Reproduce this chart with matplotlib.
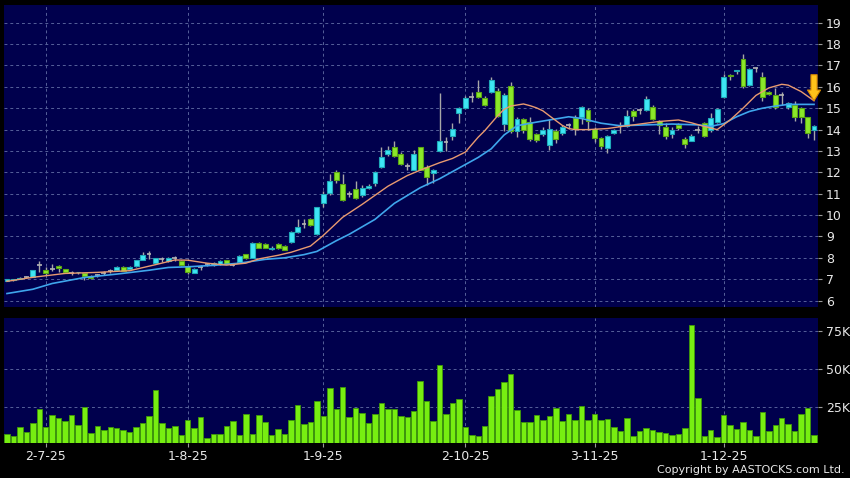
import matplotlib
matplotlib.use('Agg')
import matplotlib.pyplot as plt
import numpy as np

# ---------------- data ----------------
opens = [6.93, 6.97, 7.02, 7.10, 7.12, 7.65, 7.45, 7.50, 7.63, 7.48,
         7.30, 7.32, 7.27, 7.14, 7.18, 7.30, 7.40, 7.45, 7.56, 7.50,
         7.60, 7.90, 8.20, 7.77, 7.95, 7.86, 7.98, 7.86, 7.60, 7.31,
         7.58, 7.70, 7.66, 7.69, 7.89, 7.66, 7.81, 8.16, 8.00, 8.70,
         8.63, 8.40, 8.67, 8.55, 8.72, 9.19, 9.58, 9.80, 9.10, 10.55,
         11.02, 12.00, 11.44, 11.00, 11.20, 10.94, 11.25, 11.51, 12.23, 12.84,
         13.20, 12.88, 12.30, 12.13, 13.20, 12.26, 11.95, 12.99, 13.40, 13.70,
         14.80, 15.00, 15.53, 15.77, 15.50, 15.77, 15.81, 14.24, 16.05, 13.93,
         14.50, 14.35, 13.78, 13.80, 13.30, 13.93, 13.85, 14.20, 14.55, 14.59,
         14.90, 14.02, 13.60, 13.13, 13.83, 14.15, 14.18, 14.85, 14.90, 14.90,
         15.06, 14.38, 14.12, 13.80, 14.23, 13.55, 13.49, 14.00, 14.30, 13.96,
         14.34, 15.51, 16.57, 16.72, 17.29, 16.09, 16.90, 16.48, 15.78, 15.62,
         15.62, 15.04, 15.15, 15.00, 14.60, 13.98]
highs = [7.02, 7.03, 7.10, 7.15, 7.45, 7.83, 7.58, 7.70, 7.68, 7.50,
         7.38, 7.36, 7.30, 7.20, 7.25, 7.38, 7.48, 7.60, 7.60, 7.60,
         7.90, 8.25, 8.33, 8.00, 8.05, 8.05, 8.10, 7.90, 7.62, 7.52,
         7.65, 7.78, 7.80, 7.90, 7.92, 7.72, 8.12, 8.20, 8.72, 8.75,
         8.68, 8.55, 8.70, 8.60, 9.25, 9.83, 9.80, 9.85, 10.40, 11.12,
         11.90, 12.10, 11.90, 11.15, 11.60, 11.40, 11.45, 12.05, 13.20, 13.23,
         13.48, 12.95, 12.45, 13.05, 13.20, 12.35, 12.15, 15.70, 13.66, 14.30,
         15.08, 15.57, 15.77, 16.30, 15.55, 16.46, 15.95, 15.70, 16.25, 14.60,
         14.55, 14.60, 13.85, 14.10, 14.50, 14.05, 14.20, 14.30, 14.70, 15.10,
         15.00, 14.10, 13.65, 13.75, 14.05, 14.35, 14.90, 14.95, 15.02, 15.55,
         15.15, 14.45, 14.30, 14.10, 14.30, 13.67, 13.78, 14.15, 14.35, 14.80,
         15.00, 16.60, 16.62, 16.80, 17.52, 16.90, 16.95, 16.70, 15.82, 15.95,
         15.78, 15.30, 15.35, 15.05, 14.60, 14.20]
lows = [6.90, 6.93, 7.00, 7.05, 7.10, 7.35, 7.20, 7.40, 7.35, 7.28,
        7.20, 7.25, 6.98, 7.00, 7.10, 7.22, 7.30, 7.42, 7.38, 7.48,
        7.58, 7.88, 7.95, 7.75, 7.80, 7.80, 7.85, 7.60, 7.25, 7.28,
        7.45, 7.60, 7.60, 7.66, 7.70, 7.60, 7.78, 7.95, 7.98, 8.45,
        8.45, 8.35, 8.40, 8.35, 8.70, 9.15, 9.40, 9.50, 9.05, 10.36,
        10.93, 11.50, 10.65, 10.85, 10.75, 10.85, 11.20, 11.35, 12.20, 12.75,
        12.70, 12.35, 12.10, 12.10, 12.10, 11.40, 11.50, 12.95, 12.99, 13.50,
        14.30, 14.97, 15.30, 15.50, 15.10, 15.70, 14.60, 13.95, 13.85, 13.65,
        13.85, 13.45, 13.40, 13.70, 13.05, 13.35, 13.75, 14.05, 13.75, 14.25,
        14.00, 13.40, 13.10, 12.90, 13.78, 13.85, 14.10, 14.40, 14.75, 14.85,
        14.45, 13.80, 13.55, 13.60, 14.00, 13.12, 13.45, 13.85, 13.65, 13.90,
        14.30, 15.50, 16.30, 16.60, 15.95, 16.05, 16.70, 15.35, 15.60, 14.95,
        15.15, 14.98, 14.40, 14.30, 13.60, 13.50]
closes = [6.99, 7.00, 7.07, 7.10, 7.42, 7.65, 7.30, 7.50, 7.53, 7.35,
          7.30, 7.33, 7.16, 7.05, 7.18, 7.30, 7.40, 7.56, 7.40, 7.56,
          7.88, 8.14, 8.20, 7.97, 7.95, 8.00, 7.98, 7.66, 7.34, 7.50,
          7.58, 7.70, 7.77, 7.86, 7.73, 7.66, 8.09, 8.00, 8.70, 8.48,
          8.48, 8.47, 8.44, 8.39, 9.19, 9.45, 9.58, 9.56, 10.36, 10.98,
          11.60, 11.64, 10.70, 11.00, 10.78, 11.25, 11.37, 12.03, 12.70, 13.04,
          12.76, 12.37, 12.30, 12.84, 12.13, 11.80, 12.10, 13.46, 13.40, 14.05,
          15.00, 15.50, 15.53, 15.53, 15.17, 16.34, 14.63, 15.60, 13.92, 14.48,
          14.00, 13.57, 13.51, 14.00, 14.04, 13.57, 14.13, 14.20, 14.04, 15.06,
          14.38, 13.60, 13.24, 13.71, 13.99, 14.15, 14.65, 14.65, 14.90, 15.43,
          14.49, 14.23, 13.71, 14.00, 14.07, 13.33, 13.71, 14.00, 13.68, 14.54,
          14.96, 16.48, 16.51, 16.78, 16.04, 16.82, 16.90, 15.54, 15.67, 15.04,
          15.62, 15.26, 14.60, 14.60, 13.83, 14.17]
volume_k = [7.5, 6.2, 11.9, 8.9, 14.5, 23.9, 12.3, 20.2, 17.8, 16.3,
            19.7, 13.4, 25.2, 8.0, 12.8, 10.2, 12.1, 11.7, 10.0, 9.1,
            12.1, 14.7, 19.5, 36.0, 14.7, 11.3, 12.8, 6.9, 16.7, 11.3,
            18.6, 5.0, 7.3, 7.6, 12.8, 16.3, 7.1, 20.4, 7.8, 20.0,
            15.6, 6.9, 10.6, 7.6, 16.7,
            26.3, 14.3, 15.2, 28.9, 19.5, 37.8, 23.7, 38.0, 18.9, 24.7,
            21.3, 14.7, 20.8, 28.0, 23.9, 23.7, 19.5, 18.9, 22.3, 41.9,
            29.3, 15.8, 52.8, 20.8, 28.0, 30.2, 11.9, 7.1, 6.3, 13.0,
            32.1, 37.1, 41.7, 46.9, 23.4, 15.2, 15.4, 19.7, 16.7, 19.3,
            24.5, 16.3, 20.4, 16.5,
            25.6, 16.5, 20.8, 16.9, 17.3, 12.1, 9.3, 17.8, 6.3, 9.5,
            11.3, 10.2, 8.9, 8.0, 6.9, 7.8, 11.5, 78.7, 30.8, 6.5,
            10.2, 5.6, 20.0, 13.2, 10.8, 15.4, 10.4, 6.0, 21.9, 9.7,
            13.7, 18.2, 14.1, 9.7, 20.4, 24.7, 6.9]

ma_short_idx = [0, 4, 9, 14, 19, 23, 26, 28, 31, 34, 37, 39, 42, 44, 47, 49, 52, 55, 59, 62,
                64, 67, 69, 71, 72, 73, 74, 76, 77, 78, 80, 81, 82, 83, 84, 86, 87, 88, 90, 93,
                96, 99, 101, 104, 106, 108, 110, 112, 114, 116, 118, 120, 121, 123, 125]
ma_short = [6.90, 7.09, 7.27, 7.32, 7.40, 7.68, 7.90, 7.89, 7.75, 7.66, 7.75, 7.95, 8.12, 8.26, 8.55, 9.05, 9.90, 10.50, 11.35, 11.85,
            12.10, 12.45, 12.65, 12.95, 13.30, 13.65, 13.95, 14.65, 14.95, 15.10, 15.20, 15.12, 15.02, 14.88, 14.65, 14.20, 14.05, 14.00, 14.00, 14.05,
            14.18, 14.30, 14.38, 14.45, 14.32, 14.15, 14.00, 14.45, 15.00, 15.60, 15.95, 16.12, 16.08, 15.78, 15.35]
ma_long_idx = [0, 4, 7, 12, 17, 22, 25, 28, 32, 36, 40, 43, 46, 48, 51, 53, 57, 60, 64, 67,
               70, 73, 75, 77, 79, 82, 85, 87, 89, 92, 95, 99, 103, 107, 109, 111, 113, 115, 117, 119,
               121, 125]
ma_long = [6.33, 6.53, 6.80, 7.08, 7.24, 7.42, 7.55, 7.58, 7.65, 7.75, 7.93, 8.00, 8.15, 8.30, 8.80, 9.10, 9.80, 10.55, 11.28, 11.70,
           12.20, 12.70, 13.10, 13.75, 14.18, 14.35, 14.50, 14.60, 14.52, 14.30, 14.18, 14.22, 14.26, 14.22, 14.15, 14.28, 14.60, 14.85, 15.00, 15.10,
           15.18, 15.18]

tick_idx = [6, 28, 49, 71, 91, 111]
tick_labels = ['2-7-25', '1-8-25', '1-9-25', '2-10-25', '3-11-25', '1-12-25']
price_ticks = list(range(6, 20))
vol_ticks = [25, 50, 75]
vol_labels = ['25K', '50K', '75K']

# ---------------- style ----------------
BG = 'black'
PANEL = '#00004d'
GRID = '#56609a'
TXT = '#e8e8e8'
UP_FACE, UP_EDGE = '#3ee6f5', '#1fa9b8'
DN_FACE, DN_EDGE = '#8be82a', '#5aa514'
DOJI = '#b4b4b4'
WICK = '#a8a8a8'

fig = plt.figure(figsize=(8.5, 4.78), dpi=100, facecolor=BG)
ax = fig.add_axes([4/850, 1-307/478, 813.7/850, 302/478], facecolor=PANEL)
axv = fig.add_axes([4/850, 1-443/478, 813.7/850, 125/478], facecolor=PANEL)

x = np.arange(len(opens))
o = np.array(opens); h = np.array(highs); l = np.array(lows); c = np.array(closes)
w = 0.76

for a in (ax, axv):
    for s in a.spines.values():
        s.set_visible(False)
    a.set_xlim(-0.46, 125.57)
    a.set_xticks(tick_idx)
    a.grid(True, color=GRID, linestyle=(0, (3, 3)), linewidth=0.7)
    a.set_axisbelow(True)

# wicks
ax.vlines(x, l, h, color=WICK, linewidth=1.0, zorder=2)
up = c > o
dn = c < o
eq = c == o
ax.bar(x[up], (c - o)[up], bottom=o[up], width=w, color=UP_FACE, edgecolor=UP_EDGE, linewidth=0.8, zorder=3)
ax.bar(x[dn], (o - c)[dn], bottom=c[dn], width=w, color=DN_FACE, edgecolor=DN_EDGE, linewidth=0.8, zorder=3)
ax.hlines(c[eq], x[eq] - w/2, x[eq] + w/2, color=DOJI, linewidth=1.2, zorder=3)

ax.plot(ma_long_idx, ma_long, color='#3fa6ec', linewidth=1.2, zorder=4)
ax.plot(ma_short_idx, ma_short, color='#e99a70', linewidth=1.0, zorder=4)

ax.annotate('', xy=(ma_short_idx[-1], ma_short[-1]), xytext=(0, 26), textcoords='offset pixels',
            arrowprops=dict(arrowstyle='simple,head_length=0.7,head_width=0.85,tail_width=0.4',
                            fc='#ffc21a', ec='#d98a00', lw=0.8, shrinkA=0, shrinkB=0,
                            mutation_scale=11), zorder=6)

ax.set_ylim(5.70, 19.83)
ax.set_yticks(price_ticks)
ax.yaxis.tick_right()
ax.tick_params(axis='y', colors='#9a9a9a', labelcolor=TXT, labelsize=9, length=3, width=0.8, pad=3)
ax.tick_params(axis='x', length=0, labelbottom=False)

axv.bar(x, volume_k, width=0.85, color='#77ee11', edgecolor='#3f9a08', linewidth=0.6, zorder=3)
axv.set_ylim(1.7, 83.3)
axv.set_yticks(vol_ticks)
axv.set_yticklabels(vol_labels)
axv.yaxis.tick_right()
axv.tick_params(axis='y', colors='#9a9a9a', labelcolor=TXT, labelsize=9, length=3, width=0.8, pad=3)
axv.set_xticklabels(tick_labels)
axv.tick_params(axis='x', colors='#9a9a9a', labelcolor=TXT, labelsize=9, length=3, width=0.8, pad=2)

fig.text(845/850, 3/478, 'Copyright by AASTOCKS.com Ltd.', ha='right', va='bottom', color=TXT, fontsize=8)

fig.savefig('out.png', dpi=100, facecolor=BG)
